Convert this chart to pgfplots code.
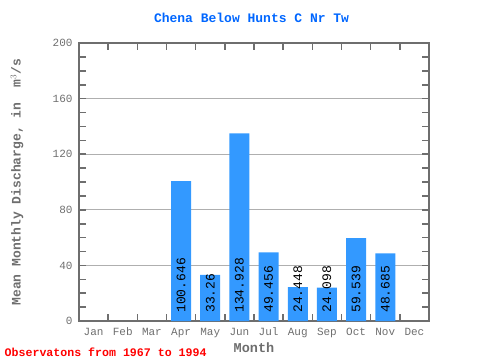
\documentclass[border=0pt]{standalone}
\usepackage{fontspec}
\setmainfont{Liberation Mono}
\usepackage{pgfplots}
\pgfplotsset{compat=1.18}
\definecolor{barblue}{RGB}{51,153,255}
\definecolor{titleblue}{RGB}{0,102,255}
\definecolor{axgray}{RGB}{110,110,110}
\definecolor{gridgray}{RGB}{175,175,175}
\definecolor{notered}{RGB}{255,0,0}
\begin{document}
\begin{tikzpicture}[x=1pt,y=1pt]
\useasboundingbox (0,0) rectangle (480,360);
\begin{axis}[
  at={(79pt,39pt)}, anchor=south west,
  scale only axis, width=350pt, height=278pt,
  xmin=0.5, xmax=12.5, ymin=0, ymax=200,
  xtick={1,...,12},
  xticklabels={Jan,Feb,Mar,Apr,May,Jun,Jul,Aug,Sep,Oct,Nov,Dec},
  major x tick style={draw=none},
  minor xtick={0.5,1.5,...,12.5},
  ytick={0,40,...,200},
  minor ytick={10,20,...,190},
  tick align=inside,
  xtick pos=both, ytick pos=both,
  xticklabel pos=lower, yticklabel pos=left,
  major tick length=7pt, minor tick length=7pt,
  ymajorgrids, grid style={gridgray, line width=0.8pt},
  axis line style={axgray, line width=1.6pt},
  every tick/.style={axgray, line width=1.6pt},
  tick label style={font=\fontsize{11}{12}\selectfont, text=axgray},
  /pgf/number format/assume math mode=true,
  yticklabel style={xshift=-3pt},
  xticklabel style={text height=8pt, text depth=2pt, yshift=-3pt},
  title={Chena Below Hunts C Nr Tw},
  title style={at={(axis description cs:0.493,1.069)}, anchor=center, font=\bfseries\fontsize{13}{14}\selectfont, text=titleblue},
  xlabel={Month},
  xlabel style={at={(axis description cs:0.5,-0.096)}, anchor=center, font=\bfseries\fontsize{13.5}{14}\selectfont, text=axgray},
  ylabel={Mean Monthly Discharge, in \ m$^{3}$/s},
  ylabel style={at={(axis description cs:-0.177,0.5)}, anchor=center, rotate=0, font=\bfseries\fontsize{13}{14}\selectfont, text=axgray},
  clip=false,
]
\addplot[ybar, bar width=20pt, bar shift=0pt, fill=barblue, draw=none]
  coordinates {(4,100.646) (5,33.26) (6,134.928) (7,49.456) (8,24.448) (9,24.098) (10,59.539) (11,48.685)};
\addplot[draw=none, mark=none, nodes near coords, point meta=explicit symbolic,
  every node near coord/.style={rotate=90, anchor=west, inner sep=0pt, xshift=0pt, text=black, font=\fontsize{13}{14}\selectfont}]
  coordinates {(4,5.8)[100.646] (5,5.8)[33.26] (6,5.8)[134.928] (7,5.8)[49.456] (8,5.8)[24.448] (9,5.8)[24.098] (10,5.8)[59.539] (11,5.8)[48.685]};
\end{axis}
\node[anchor=west, text=notered, font=\bfseries\fontsize{11.6}{12}\selectfont, inner sep=0pt] at (4.5,8) {Observatons from 1967 to 1994};
\end{tikzpicture}
\end{document}
